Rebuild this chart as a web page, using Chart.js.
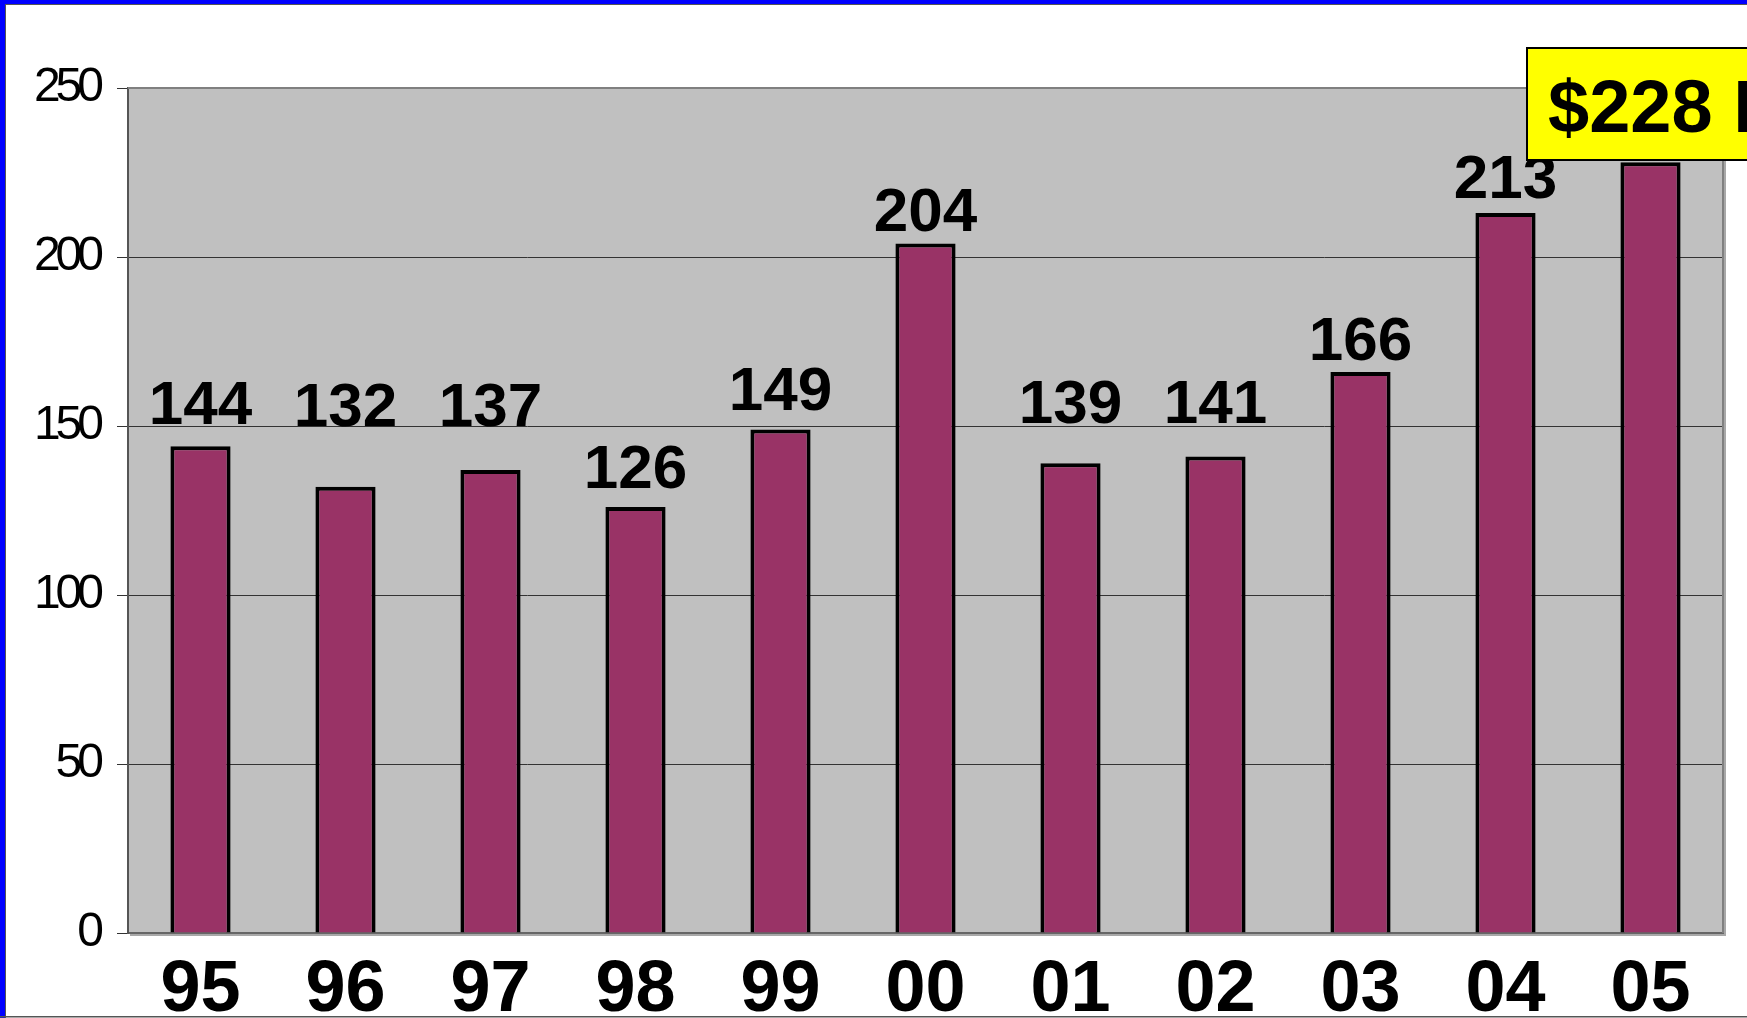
<!DOCTYPE html>
<html>
<head>
<meta charset="utf-8">
<title>Revenue 95-05</title>
<script src="https://cdn.jsdelivr.net/npm/chart.js@4/dist/chart.umd.min.js"></script>
<style>
  html, body { margin: 0; padding: 0; background: #fff; overflow: hidden; }
  #chart { display: block; }
</style>
</head>
<body>
<canvas id="chart" width="1747" height="1018"></canvas>
<script>
/*------------------------
DATOS
-------------------------*/
var years = ['95', '96', '97', '98', '99', '00', '01', '02', '03', '04', '05'];
var revenue = [144, 132, 137, 126, 149, 204, 139, 141, 166, 213, 228];
var yTicks = [0, 50, 100, 150, 200, 250];

// how far above the bar top each value label sits (px), as in the slide
var labelGap = [22, 61, 44, 19, 19, 12, 40, 33, 12, 15, 12];

/*------------------------
MARCO Y FONDO
-------------------------*/
var framePlugin = {
    id: 'frame',
    beforeDraw: function(chart) {
        var ctx = chart.ctx;
        var a = chart.chartArea;
        ctx.save();
        ctx.fillStyle = '#ffffff';
        ctx.fillRect(0, 0, chart.width, chart.height);
        // slide border
        ctx.fillStyle = '#0000ff';
        ctx.fillRect(0, 0, chart.width, 4);
        ctx.fillRect(0, 0, 5, chart.height);
        ctx.fillStyle = '#555555';
        ctx.fillRect(5, 4, chart.width, 1);
        ctx.fillRect(5, 4, 1, chart.height);
        ctx.fillRect(0, chart.height - 2, chart.width, 1.5);
        // plot area
        ctx.fillStyle = '#c0c0c0';
        ctx.fillRect(a.left, a.top, a.right - a.left, a.bottom - a.top);
        ctx.restore();
    },
    afterDatasetsDraw: function(chart) {
        var ctx = chart.ctx;
        var a = chart.chartArea;
        ctx.save();
        ctx.strokeStyle = '#808080';
        ctx.lineWidth = 2;
        ctx.beginPath();
        ctx.moveTo(a.left, a.top);
        ctx.lineTo(a.right, a.top);
        ctx.lineTo(a.right, a.bottom);
        ctx.stroke();
        ctx.strokeStyle = '#a8a8a8';
        ctx.beginPath();
        ctx.moveTo(a.right + 2, a.top + 2);
        ctx.lineTo(a.right + 2, a.bottom + 2);
        ctx.lineTo(a.left + 2, a.bottom + 2);
        ctx.stroke();
        ctx.restore();
        // y tick labels (z: 1) come next: squeeze them like the narrow slide font
        ctx.letterSpacing = '-5px';
    }
};

/*------------------------
ETIQUETAS DE VALOR + CAJA
-------------------------*/
var labelsPlugin = {
    id: 'valueLabels',
    afterDraw: function(chart) {
        var ctx = chart.ctx;
        var bars = chart.getDatasetMeta(0).data;
        ctx.letterSpacing = '0px';
        ctx.save();
        ctx.fillStyle = '#000';
        ctx.font = 'bold 62px "Liberation Sans", Arial, sans-serif';
        ctx.textAlign = 'center';
        ctx.textBaseline = 'alphabetic';
        bars.forEach(function(bar, i) {
            ctx.fillText(String(revenue[i]), bar.x, bar.y - labelGap[i]);
        });

        // yellow total box, top right
        ctx.fillStyle = '#ffff00';
        ctx.strokeStyle = '#000';
        ctx.lineWidth = 2;
        ctx.fillRect(1527, 48, 240, 112);
        ctx.strokeRect(1527, 48, 240, 112);
        ctx.fillStyle = '#000';
        ctx.textAlign = 'left';
        ctx.font = 'bold 74px "Liberation Sans", Arial, sans-serif';
        ctx.fillText('$' + revenue[revenue.length - 1] + ' B', 1548, 132);
        ctx.restore();
    }
};

/*------------------------
GRAFICO
-------------------------*/
var config = {
    type: 'bar',
    data: {
        labels: years,
        datasets: [{
            data: revenue,
            backgroundColor: '#993366',
            borderColor: '#000000',
            borderWidth: 4,
            categoryPercentage: 1,
            barPercentage: 0.415
        }]
    },
    options: {
        responsive: false,
        animation: false,
        devicePixelRatio: 1,
        layout: { padding: { left: 0, top: 88, right: 24, bottom: 0 } },
        plugins: {
            legend: { display: false },
            tooltip: { enabled: false }
        },
        scales: {
            x: {
                grid: { display: false },
                border: { display: true, color: '#666666', width: 2 },
                ticks: {
                    color: '#000',
                    padding: 7,
                    font: { family: '"Liberation Sans", Arial, sans-serif', size: 72, weight: 'bold', lineHeight: 1.2 }
                },
                afterFit: function(scale) { scale.height = 85; }
            },
            y: {
                min: 0,
                max: 250,
                afterBuildTicks: function(scale) {
                    scale.ticks = yTicks.map(function(v) { return { value: v }; });
                },
                grid: { color: '#333333', lineWidth: 1, tickLength: 11, tickColor: '#333333' },
                border: { display: true, color: '#555555', width: 2 },
                ticks: {
                    z: 1,
                    color: '#000',
                    padding: 18,
                    font: { family: '"Liberation Sans", Arial, sans-serif', size: 48 }
                },
                afterFit: function(scale) { scale.width = 128; }
            }
        }
    },
    plugins: [framePlugin, labelsPlugin]
};

window.onload = function() {
    var ctx = document.getElementById('chart').getContext('2d');
    window.myBar = new Chart(ctx, config);
};
</script>
</body>
</html>
